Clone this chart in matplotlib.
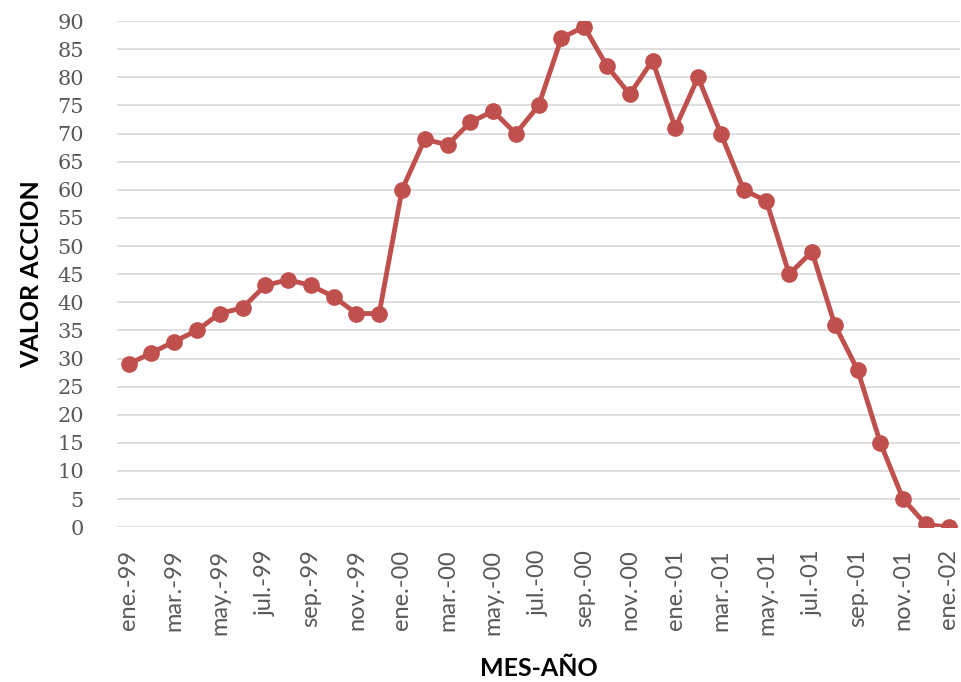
import matplotlib
matplotlib.use("Agg")
import matplotlib.pyplot as plt
import numpy as np

months = ["ene.", "feb.", "mar.", "abr.", "may.", "jun.",
          "jul.", "ago.", "sep.", "oct.", "nov.", "dic."]
labels = []
for yr in ["-99", "-00", "-01"]:
    for m in months:
        labels.append(m + yr)
labels.append("ene.-02")

values = [29, 31, 33, 35, 38, 39, 43, 44, 43, 41, 38, 38,
          60, 69, 68, 72, 74, 70, 75, 87, 89, 82, 77, 83,
          71, 80, 70, 60, 58, 45, 49, 36, 28, 15, 5, 0.5,
          0]

x = np.arange(len(values))

fig = plt.figure(figsize=(9.61, 6.82), dpi=100)
ax = fig.add_axes([0.122, 0.227, 0.877, 0.742])

ax.plot(x, values, color="#C0504D", linewidth=3.5, marker="o",
        markersize=11, markeredgecolor="#C0504D", zorder=3)

ax.set_xlim(-0.5, len(values) - 0.5)
ax.set_ylim(0, 90)
ax.set_yticks(np.arange(0, 91, 5))
ax.set_xticks(x[::2])
ax.set_xticklabels(labels[::2], rotation=90, fontsize=17,
                   family="Lato", color="#595959")
for t in ax.get_yticklabels():
    t.set_fontsize(15)
    t.set_color("#595959")
    t.set_family("DejaVu Serif")

ax.grid(axis="y", color="#D9D9D9", linewidth=1.2)
ax.set_axisbelow(True)
for s in ax.spines.values():
    s.set_visible(False)
ax.tick_params(axis="x", length=0, pad=16)
ax.tick_params(axis="y", length=0, pad=24)

ax.set_ylabel("VALOR ACCION", fontsize=18, fontweight="bold",
              family="Lato", labelpad=10)
ax.set_xlabel("MES-AÑO", fontsize=18, fontweight="bold",
              family="Lato", labelpad=16)

fig.savefig("out.png", dpi=100)
